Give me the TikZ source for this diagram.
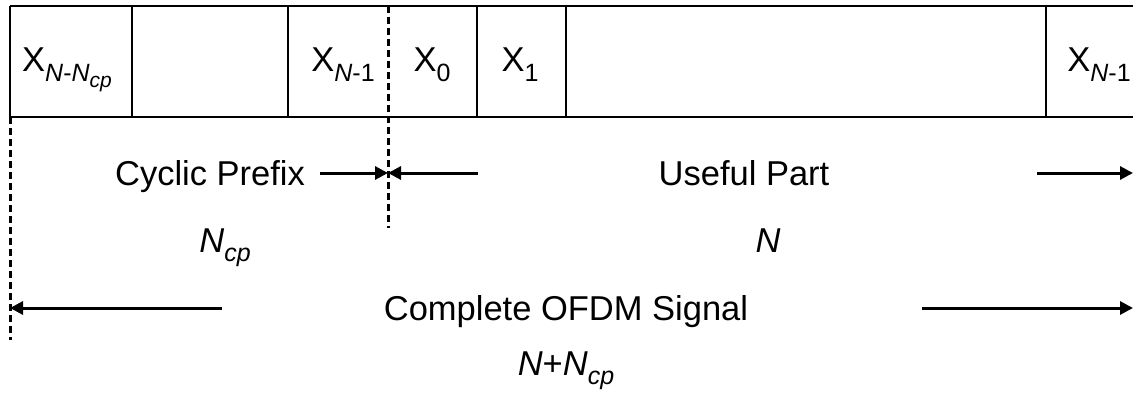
\documentclass[tikz,border=0pt]{standalone}
\usepackage{fontspec}
\setmainfont{Liberation Sans}
\usetikzlibrary{arrows.meta}

% text sizes: main labels, subscripts, second-level subscripts
\newcommand\lbl{\fontsize{34.5}{40}\selectfont}
\newcommand\sbs[1]{\raisebox{-0.28em}{\fontsize{25}{28}\selectfont #1}}
\newcommand\ssbs[1]{\raisebox{-0.22em}{\fontsize{21}{24}\selectfont #1}}

\begin{document}
\begin{tikzpicture}[x=1pt,y=-1pt,
  cellline/.style={line width=2.6pt},
  guide/.style={line width=3pt,dash pattern=on 7pt off 4pt},
  span/.style={line width=3pt,-{Triangle[length=13pt,width=13pt]}},
  txt/.style={inner sep=0pt,anchor=base,font=\lbl}]
\useasboundingbox (0,0) rectangle (1133,396);

% frame of the symbol sequence
\draw[cellline] (10,6) -- (1133,6);
\draw[cellline] (10,117) -- (1133,117);
\foreach \xx in {10,132,288,477,566,1046}
  \draw[cellline] (\xx,6) -- (\xx,117);

% boundaries of the cyclic prefix
\coordinate (cpstart) at (10,117);
\coordinate (cpstartend) at (10,340);
\coordinate (cpend) at (388,6);
\coordinate (cpendend) at (388,228);
\draw[guide] (cpstart) -- (cpstartend);
\draw[guide] (cpend) -- (cpendend);

% symbols
\node[txt] (xa) at (67,72) {X\sbs{\textit{N}-\textit{N}\ssbs{\textit{cp}}}};
\node[txt] (xb) at (343,72) {X\sbs{\textit{N}-1}};
\node[txt] (x0) at (432,72) {X\sbs{0}};
\node[txt] (x1) at (520,72) {X\sbs{1}};
\node[txt] (xc) at (1099,72) {X\sbs{\textit{N}-1}};

% labels
\node[txt] (cp) at (210,185) {Cyclic Prefix};
\node[txt] (up) at (744,185) {Useful Part};
\node[txt] (ncp) at (225,252) {\textit{N}\sbs{\textit{cp}}};
\node[txt] (n) at (768,252) {\textit{N}};
\node[txt] (all) at (566,320) {Complete OFDM Signal};
\node[txt] (nall) at (566,375) {\textit{N}+\textit{N}\sbs{\textit{cp}}};

% arrow ends
\coordinate (a1) at (320,173);
\coordinate (a2) at (388,173);
\coordinate (a3) at (478,173);
\coordinate (a4) at (1037,173);
\coordinate (a5) at (1133,173);
\coordinate (b1) at (222,308);
\coordinate (b2) at (10,308);
\coordinate (b3) at (922,308);
\coordinate (b4) at (1133,308);

\draw[span] (a1) -- (a2);
\draw[span] (a3) -- (a2);
\draw[span] (a4) -- (a5);
\draw[span] (b1) -- (b2);
\draw[span] (b3) -- (b4);
\end{tikzpicture}
\end{document}
